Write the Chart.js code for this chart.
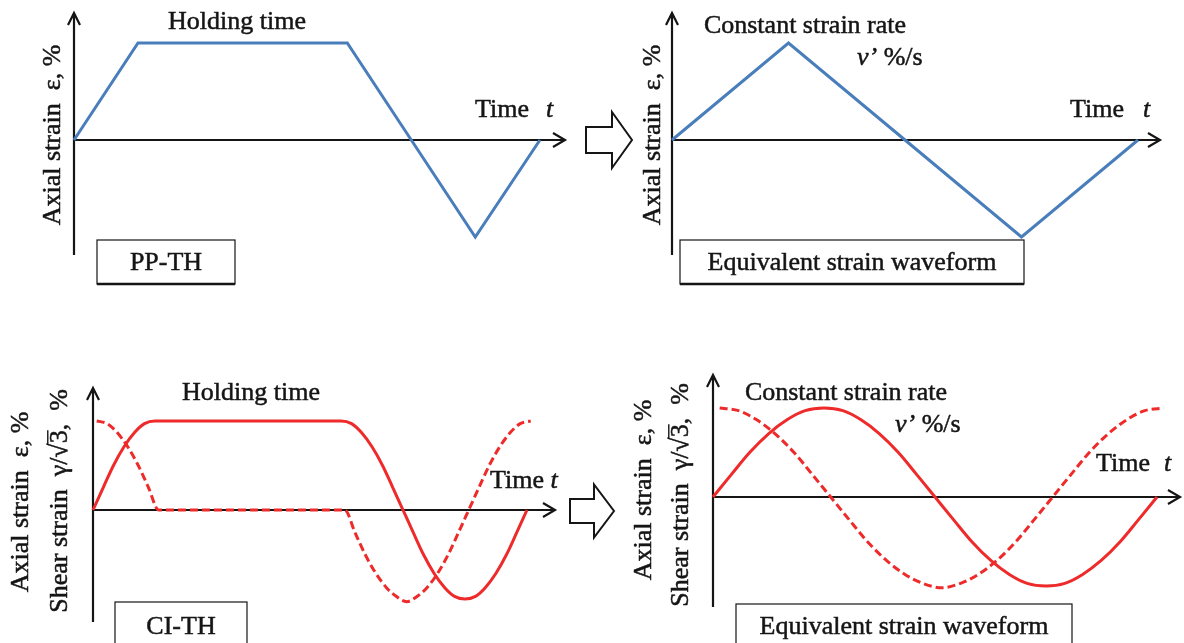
<!DOCTYPE html>
<html>
<head>
<meta charset="utf-8">
<script src="https://cdn.jsdelivr.net/npm/chart.js@4/dist/chart.umd.min.js"></script>
<style>
  html, body { margin: 0; padding: 0; background: #fff; }
  #wrap { position: relative; width: 1184px; height: 643px; overflow: hidden; }
  #wrap canvas { position: absolute; left: 0; top: 0; }
</style>
</head>
<body>
<div id="wrap">
  <canvas id="ppth" width="1184" height="643"></canvas>
  <canvas id="tri" width="1184" height="643"></canvas>
  <canvas id="cith" width="1184" height="643"></canvas>
  <canvas id="sine" width="1184" height="643"></canvas>
</div>
<script>
// PP-TH waveform (top left), time in ramp units, strain in amplitude units
const ppthTime   = [0, 1, 4.27, 5.27, 6.27, 7.28];
const ppthStrain = [0, 1, 1, 0, -1, 0];

// equivalent triangular waveform (top right)
const triTime   = [0, 1, 2, 3, 4];
const triStrain = [0, 1, 0, -1, 0];

// CI-TH waveform (bottom left)
const cithTime  = [0, 0.17, 0.33, 0.5, 0.67, 0.83, 1, 4, 4.17, 4.33, 4.5, 4.67, 4.83, 5,
                   5.17, 5.33, 5.5, 5.67, 5.83, 6, 6.17, 6.33, 6.5, 6.67, 6.83, 7];
const cithAxial = [0, 0.26, 0.5, 0.71, 0.87, 0.97, 1, 1, 0.97, 0.87, 0.71, 0.5, 0.26, 0,
                   -0.26, -0.5, -0.71, -0.87, -0.97, -1, -0.97, -0.87, -0.71, -0.5, -0.26, 0];
const cithShearTime = [0.06, 0.23, 0.39, 0.56, 0.73, 0.89, 1.06, 4.06, 4.23, 4.39, 4.56, 4.73, 4.89, 5.06,
                       5.23, 5.39, 5.56, 5.73, 5.89, 6.06, 6.23, 6.39, 6.56, 6.73, 6.89, 7.06];
const cithShear = [1, 0.97, 0.87, 0.71, 0.5, 0.26, 0, 0, -0.26, -0.5, -0.71, -0.87, -0.97, -1.03,
                   -0.97, -0.87, -0.71, -0.5, -0.26, 0, 0.26, 0.5, 0.71, 0.87, 0.97, 1];

// equivalent sinusoidal waveform (bottom right)
const sineTime  = [0, 0.17, 0.33, 0.5, 0.67, 0.83, 1, 1.17, 1.33, 1.5, 1.67, 1.83, 2,
                   2.17, 2.33, 2.5, 2.67, 2.83, 3, 3.17, 3.33, 3.5, 3.67, 3.83, 4];
const sineAxial = [0, 0.26, 0.5, 0.71, 0.87, 0.97, 1, 0.97, 0.87, 0.71, 0.5, 0.26, 0,
                   -0.26, -0.5, -0.71, -0.87, -0.97, -1, -0.97, -0.87, -0.71, -0.5, -0.26, 0];
const sineShearTime = [0.06, 0.23, 0.39, 0.56, 0.73, 0.89, 1.06, 1.23, 1.39, 1.56, 1.73, 1.89, 2.06,
                       2.23, 2.39, 2.56, 2.73, 2.89, 3.06, 3.23, 3.39, 3.56, 3.73, 3.89, 4.06];
const sineShear = [1, 0.97, 0.87, 0.71, 0.5, 0.26, 0, -0.26, -0.5, -0.71, -0.87, -0.97, -1.02,
                   -0.97, -0.87, -0.71, -0.5, -0.26, 0, 0.26, 0.5, 0.71, 0.87, 0.97, 1];

const SERIF = "'Liberation Serif', 'Times New Roman', serif";
const BLUE = '#4a7ebb';
const RED = '#ee2a2a';
const INK = '#151515';

const pts = (xs, ys) => xs.map((x, i) => ({ x: x, y: ys[i] }));

function drawRuns(ctx, item) {
  const size = item.size || 26;
  ctx.save();
  ctx.translate(item.x, item.y);
  if (item.rot) ctx.rotate(item.rot * Math.PI / 180);
  ctx.textBaseline = 'middle';
  ctx.fillStyle = INK;
  ctx.strokeStyle = INK;
  const fontOf = r => (r.i ? 'italic ' : '') + size + 'px ' + SERIF;
  const widths = item.runs.map(r => { ctx.font = fontOf(r); return ctx.measureText(r.t).width; });
  const total = widths.reduce((s, w) => s + w, 0);
  let x = item.align === 'left' ? 0 : -total / 2;
  item.runs.forEach((r, k) => {
    ctx.font = fontOf(r);
    ctx.fillText(r.t, x, 0);
    // the scanned figure has heavier letters, thicken a little
    ctx.lineWidth = 0.5;
    ctx.strokeText(r.t, x, 0);
    if (r.bar) {
      ctx.lineWidth = 1.4;
      ctx.beginPath();
      ctx.moveTo(x - 1, -size * 0.47);
      ctx.lineTo(x + widths[k], -size * 0.47);
      ctx.stroke();
    }
    x += widths[k];
  });
  ctx.restore();
}

const sketchPlugin = {
  id: 'sketch',
  beforeDatasetsDraw(chart) {
    const ctx = chart.ctx, a = chart.chartArea;
    const x0 = chart.scales.x.getPixelForValue(0);
    const y0 = chart.scales.y.getPixelForValue(0);
    ctx.save();
    ctx.strokeStyle = INK;
    ctx.lineWidth = 2.2;
    ctx.lineJoin = 'miter';
    ctx.beginPath();
    ctx.moveTo(x0, a.bottom); ctx.lineTo(x0, a.top);
    ctx.moveTo(x0 - 6, a.top + 12); ctx.lineTo(x0, a.top); ctx.lineTo(x0 + 6, a.top + 12);
    ctx.moveTo(x0, y0); ctx.lineTo(a.right, y0);
    ctx.moveTo(a.right - 12, y0 - 7); ctx.lineTo(a.right, y0); ctx.lineTo(a.right - 12, y0 + 7);
    ctx.stroke();
    ctx.restore();
  },
  afterDraw(chart, args, opts) {
    const ctx = chart.ctx;
    (opts.boxes || []).forEach(b => {
      ctx.save();
      ctx.fillStyle = '#fff';
      ctx.fillRect(b.x, b.y, b.w, b.h);
      ctx.strokeStyle = INK;
      ctx.lineWidth = 1.2;
      ctx.strokeRect(b.x, b.y, b.w, b.h);
      ctx.lineWidth = 2.5;
      ctx.beginPath();
      ctx.moveTo(b.x, b.y + b.h); ctx.lineTo(b.x + b.w, b.y + b.h);
      ctx.stroke();
      ctx.restore();
      drawRuns(ctx, { x: b.x + b.w / 2, y: b.ty, runs: [{ t: b.text }] });
    });
    (opts.arrows || []).forEach(h => {
      ctx.save();
      ctx.fillStyle = '#fff';
      ctx.strokeStyle = INK;
      ctx.lineWidth = 2;
      ctx.beginPath();
      ctx.moveTo(h.x, h.cy - h.body / 2);
      ctx.lineTo(h.neck, h.cy - h.body / 2);
      ctx.lineTo(h.neck, h.cy - h.head / 2);
      ctx.lineTo(h.tip, h.cy);
      ctx.lineTo(h.neck, h.cy + h.head / 2);
      ctx.lineTo(h.neck, h.cy + h.body / 2);
      ctx.lineTo(h.x, h.cy + h.body / 2);
      ctx.closePath();
      ctx.fill();
      ctx.stroke();
      ctx.restore();
    });
    (opts.texts || []).forEach(t => drawRuns(ctx, t));
  }
};

function makeChart(id, frame, datasets, sketch) {
  const yUnit = frame.yUnit, xUnit = frame.xUnit;
  return new Chart(document.getElementById(id), {
    type: 'line',
    data: { datasets: datasets },
    options: {
      responsive: false,
      animation: false,
      events: [],
      layout: {
        padding: {
          left: frame.left,
          right: 1184 - frame.right,
          top: frame.top,
          bottom: 643 - frame.bottom
        }
      },
      scales: {
        x: { type: 'linear', display: false, min: 0, max: (frame.right - frame.left) / xUnit },
        y: { type: 'linear', display: false,
             min: -(frame.bottom - frame.origin) / yUnit,
             max: (frame.origin - frame.top) / yUnit }
      },
      elements: { point: { radius: 0 } },
      plugins: { legend: { display: false }, tooltip: { enabled: false }, sketch: sketch }
    },
    plugins: [sketchPlugin]
  });
}

const axialLabel = [{ t: 'Axial strain  ' }, { t: 'ε' }, { t: ', %' }];
const shearLabel = [{ t: 'Shear strain  ' }, { t: 'γ/√' }, { t: '3', bar: true }, { t: ',  %' }];

// top left: PP-TH
makeChart('ppth',
  { left: 74, right: 565, top: 13, bottom: 255, origin: 140, xUnit: 64, yUnit: 97 },
  [{ data: pts(ppthTime, ppthStrain), borderColor: BLUE, borderWidth: 3, tension: 0, clip: false }],
  {
    texts: [
      { x: 237, y: 22, runs: [{ t: 'Holding time' }] },
      { x: 475, y: 110, align: 'left', runs: [{ t: 'Time' }] },
      { x: 546, y: 110, align: 'left', runs: [{ t: 't', i: true }] },
      { x: 53, y: 135, rot: -90, runs: axialLabel }
    ],
    boxes: [{ x: 97, y: 240, w: 138, h: 44, ty: 263, text: 'PP-TH' }],
    arrows: [{ x: 586, neck: 612, tip: 632, cy: 140, body: 26, head: 56 }]
  });

// top right: equivalent triangular waveform
makeChart('tri',
  { left: 672, right: 1160, top: 13, bottom: 255, origin: 140, xUnit: 116.5, yUnit: 97 },
  [{ data: pts(triTime, triStrain), borderColor: BLUE, borderWidth: 3, tension: 0, clip: false }],
  {
    texts: [
      { x: 805, y: 26, runs: [{ t: 'Constant strain rate' }] },
      { x: 857, y: 58, align: 'left', runs: [{ t: 'ν’', i: true }, { t: ' %/s' }] },
      { x: 1070, y: 110, align: 'left', runs: [{ t: 'Time' }] },
      { x: 1143, y: 110, align: 'left', runs: [{ t: 't', i: true }] },
      { x: 653, y: 135, rot: -90, runs: axialLabel }
    ],
    boxes: [{ x: 680, y: 240, w: 344, h: 44, ty: 263, text: 'Equivalent strain waveform' }]
  });

// bottom left: CI-TH
makeChart('cith',
  { left: 93, right: 555, top: 388, bottom: 622, origin: 510, xUnit: 62, yUnit: 89 },
  [
    { data: pts(cithTime, cithAxial), borderColor: RED, borderWidth: 3,
      cubicInterpolationMode: 'monotone', clip: false },
    { data: pts(cithShearTime, cithShear), borderColor: RED, borderWidth: 3, borderDash: [8, 4],
      cubicInterpolationMode: 'monotone', clip: false }
  ],
  {
    texts: [
      { x: 251, y: 393, runs: [{ t: 'Holding time' }] },
      { x: 490, y: 481, align: 'left', runs: [{ t: 'Time ' }, { t: 't', i: true }] },
      { x: 21, y: 502, rot: -90, runs: axialLabel },
      { x: 60, y: 501, rot: -90, runs: shearLabel }
    ],
    boxes: [{ x: 115, y: 602, w: 132, h: 50, ty: 627, text: 'CI-TH' }],
    arrows: [{ x: 570, neck: 594, tip: 614, cy: 511, body: 24, head: 53 }]
  });

// bottom right: equivalent sinusoidal waveform
makeChart('sine',
  { left: 713, right: 1180, top: 375, bottom: 607, origin: 497, xUnit: 111, yUnit: 89 },
  [
    { data: pts(sineTime, sineAxial), borderColor: RED, borderWidth: 3,
      cubicInterpolationMode: 'monotone', clip: false },
    { data: pts(sineShearTime, sineShear), borderColor: RED, borderWidth: 3, borderDash: [8, 4],
      cubicInterpolationMode: 'monotone', clip: false }
  ],
  {
    texts: [
      { x: 846, y: 393, runs: [{ t: 'Constant strain rate' }] },
      { x: 895, y: 425, align: 'left', runs: [{ t: 'ν’', i: true }, { t: ' %/s' }] },
      { x: 1096, y: 464, align: 'left', runs: [{ t: 'Time' }] },
      { x: 1164, y: 464, align: 'left', runs: [{ t: 't', i: true }] },
      { x: 644, y: 490, rot: -90, runs: axialLabel },
      { x: 681, y: 495, rot: -90, runs: shearLabel }
    ],
    boxes: [{ x: 736, y: 604, w: 336, h: 50, ty: 627, text: 'Equivalent strain waveform' }]
  });
</script>
</body>
</html>
